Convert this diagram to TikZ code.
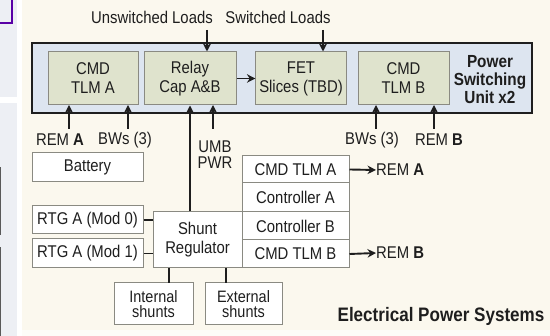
\documentclass[tikz,border=0pt]{standalone}
\usepackage{fontspec}
\setmainfont{Liberation Sans}[FakeStretch=0.875]
\usetikzlibrary{arrows.meta}
\definecolor{cream}{HTML}{FBF8EE}
\definecolor{psublue}{HTML}{DDE5F0}
\definecolor{boxgreen}{HTML}{DFE3CD}
\definecolor{panelgrey}{HTML}{EDEFF4}
\definecolor{boxedge}{HTML}{8A8A82}
\definecolor{txt}{HTML}{1E1E1E}
\begin{document}
\begin{tikzpicture}[x=1pt,y=-1pt,
  every node/.style={text=txt},
  greenbox/.style={draw=boxedge,fill=boxgreen,line width=1pt,align=center,font=\fontsize{17}{19}\selectfont},
  whitebox/.style={draw=boxedge,fill=white,line width=1pt,align=center,font=\fontsize{17}{19}\selectfont},
  lbl/.style={font=\fontsize{17}{16}\selectfont,align=center,inner sep=0pt},
  conn/.style={draw=txt,line width=1.9pt},
  arr/.style={conn,-{Stealth[length=8.5pt,width=8.5pt]}},
]
\useasboundingbox (0,0) rectangle (550,336);
% backgrounds
\fill[cream] (0,0) rectangle (550,336);
\fill[white] (0,0) rectangle (22,336);
\fill[panelgrey] (0,0) rectangle (17,97);
\fill[panelgrey] (0,103) rectangle (17,336);
\draw[violet!70!blue,line width=1.2pt] (12,0) -- (12,23) -- (0,23);
\fill[gray!70!black] (0,167) rectangle (1.3,235);
\fill[gray!70!black] (0,247) rectangle (1.3,336);
\fill[white!60!cream] (22,330) rectangle (550,336);

% PSU
\node[draw=txt,fill=psublue,line width=1.8pt,minimum width=500pt,minimum height=70pt,inner sep=0pt] (psu) at (282,78) {};
\node[greenbox,minimum width=90pt,minimum height=53pt] (cmda) at (93,78.5) {CMD\\TLM A};
\node[greenbox,minimum width=92pt,minimum height=53pt] (relay) at (190,78.5) {Relay\\Cap A\&B};
\node[greenbox,minimum width=90pt,minimum height=53pt] (fet) at (301,78.5) {FET\\Slices (TBD)};
\node[greenbox,minimum width=91pt,minimum height=53pt] (cmdb) at (403.5,78.5) {CMD\\TLM B};
\node[font=\bfseries\fontsize{17.5}{18}\selectfont,align=center,inner sep=0pt] (psulbl) at (490,80) {Power\\Switching\\Unit x2};
\draw[arr] (relay.east) -- (fet.west);

% top loads
\node[lbl] (unsw) at (152,17) {Unswitched Loads};
\node[lbl] (sw) at (278,17) {Switched Loads};
\coordinate (unswarr) at (207,30);
\coordinate (swarr) at (323,30);
\draw[arr] (unswarr) -- (unswarr |- relay.north);
\draw[arr] (swarr) -- (swarr |- fet.north);

% bottom PSU labels
\node[lbl] (rema) at (60,140) {REM \textbf{A}};
\node[lbl] (bwa) at (125,140) {BWs (3)};
\node[lbl] (bwb) at (372,140) {BWs (3)};
\node[lbl] (remb) at (439,140) {REM \textbf{B}};
\node[lbl] (umb) at (215,155) {UMB\\PWR};
\draw[arr] (69,129) -- (69,105);
\draw[arr] (128,129) -- (128,105);
\draw[arr] (376,129) -- (376,105);
\draw[arr] (434,129) -- (434,105);
\draw[arr] (213,129) -- (213,105);

% left boxes
\node[whitebox,minimum width=111pt,minimum height=29pt,inner sep=0pt] (batt) at (87.5,167.5) {Battery};
\node[whitebox,minimum width=111pt,minimum height=28pt,inner sep=0pt] (rtg0) at (87.5,220) {RTG A (Mod 0)};
\node[whitebox,minimum width=111pt,minimum height=29pt,inner sep=0pt] (rtg1) at (87.5,253.5) {RTG A (Mod 1)};
\node[whitebox,minimum width=89pt,minimum height=56pt,inner sep=0pt] (shunt) at (197.5,240) {Shunt\\Regulator};
\node[whitebox,minimum width=79pt,minimum height=42pt,inner sep=0pt,font=\fontsize{16.5}{15}\selectfont] (intsh) at (153.5,304) {Internal\\shunts};
\node[whitebox,minimum width=77pt,minimum height=42pt,inner sep=0pt,font=\fontsize{16.5}{15}\selectfont] (extsh) at (243.5,304) {External\\shunts};
\draw[conn] (rtg0.east) -- (rtg0.east -| shunt.west);
\draw[conn] (rtg1.east) -- (rtg1.east -| shunt.west);
\draw[conn] (169,268) -- (169,283);
\draw[conn] (226,268) -- (226,283);
\draw[arr] (shunt.north -| relay.south) -- (relay.south);

% right stack
\node[whitebox,minimum width=107pt,minimum height=27pt,inner sep=0pt] (ctA) at (295.5,169.5) {CMD TLM A};
\node[whitebox,minimum width=107pt,minimum height=29pt,inner sep=0pt] (cA) at (295.5,197.5) {Controller A};
\node[whitebox,minimum width=107pt,minimum height=28pt,inner sep=0pt] (cB) at (295.5,226) {Controller B};
\node[whitebox,minimum width=107pt,minimum height=28pt,inner sep=0pt] (ctB) at (295.5,254) {CMD TLM B};
\node[lbl,anchor=west] (ra) at (376,170) {REM \textbf{A}};
\node[lbl,anchor=west] (rb) at (376,253) {REM \textbf{B}};
\draw[arr] (ctA.east) -- (ra.west);
\draw[arr] (ctB.east) -- (rb.west);

\node[font=\bfseries\fontsize{19.5}{16}\selectfont,inner sep=0pt] (title) at (441,316) {Electrical Power Systems};
\end{tikzpicture}
\end{document}
